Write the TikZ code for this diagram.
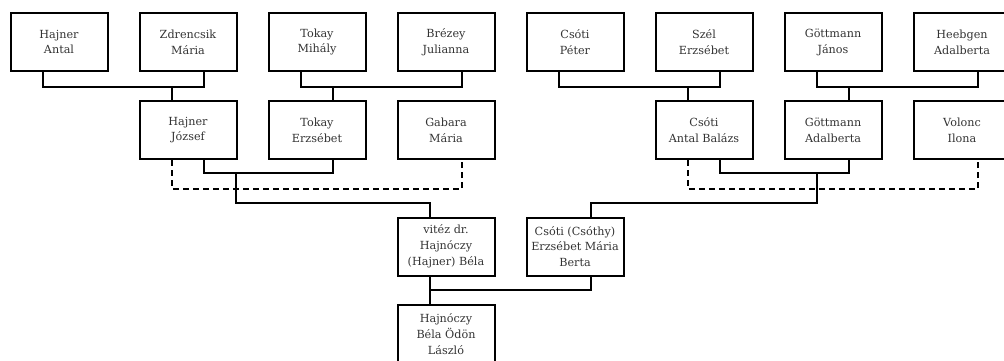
\documentclass[tikz,border=0pt]{standalone}
\usepackage{fontspec}
\setmainfont{DejaVu Serif}

\begin{document}
\begin{tikzpicture}[
    x=1pt, y=-1pt,
    person/.style={rectangle, draw=black, line width=2pt, minimum width=97pt, minimum height=58pt,
                   inner sep=0pt, align=center, text=black!80, font=\fontsize{11.2}{15.8}\selectfont},
    link/.style={line width=1.8pt, black},
    exlink/.style={link, dash pattern=on 6pt off 4pt}
  ]

    % picture frame (boxes on the right and bottom are cut off)
    \useasboundingbox (0,0) rectangle (1004,360);
    \clip (0,0) rectangle (1004,360);

    % Great-grandparents
    \node[person] (a1) at (59, 42)  {Hajner\\Antal};
    \node[person] (a2) at (188, 42) {Zdrencsik\\Mária};
    \node[person] (a3) at (317, 42) {Tokay\\Mihály};
    \node[person] (a4) at (446, 42) {Brézey\\Julianna};
    \node[person] (a5) at (575, 42) {Csóti\\Péter};
    \node[person] (a6) at (704, 42) {Szél\\Erzsébet};
    \node[person] (a7) at (833, 42) {Göttmann\\János};
    \node[person] (a8) at (962, 42) {Heebgen\\Adalberta};

    % Grandparents and their other spouses
    \node[person] (b1) at (188, 130) {Hajner\\József};
    \node[person] (b2) at (317, 130) {Tokay\\Erzsébet};
    \node[person] (b3) at (446, 130) {Gabara\\Mária};
    \node[person] (b4) at (704, 130) {Csóti\\Antal Balázs};
    \node[person] (b5) at (833, 130) {Göttmann\\Adalberta};
    \node[person] (b6) at (962, 130) {Volonc\\Ilona};

    % Parents
    \node[person] (c1) at (446, 246.5) {vitéz dr.\\Hajnóczy\\(Hajner) Béla};
    \node[person] (c2) at (575, 246.5) {Csóti (Csóthy)\\Erzsébet Mária\\Berta};

    % Child
    \node[person] (d1) at (446, 334) {Hajnóczy\\Béla Ödön\\László};

    % Junction points on the marriage bars
    \coordinate (j1) at (172, 87);
    \coordinate (j2) at (333, 87);
    \coordinate (j3) at (688, 87);
    \coordinate (j4) at (849, 87);
    \coordinate (j5) at (236, 173);
    \coordinate (j6) at (817, 173);
    \coordinate (j7) at (430, 290);

    % Top marriages
    \draw[link] ([xshift=-16pt]a1.south) |- (j1) -| ([xshift=16pt]a2.south);
    \draw[link] (j1) -- ([xshift=-16pt]b1.north);
    \draw[link] ([xshift=-16pt]a3.south) |- (j2) -| ([xshift=16pt]a4.south);
    \draw[link] (j2) -- ([xshift=16pt]b2.north);
    \draw[link] ([xshift=-16pt]a5.south) |- (j3) -| ([xshift=16pt]a6.south);
    \draw[link] (j3) -- ([xshift=-16pt]b4.north);
    \draw[link] ([xshift=-16pt]a7.south) |- (j4) -| ([xshift=16pt]a8.south);
    \draw[link] (j4) -- ([xshift=16pt]b5.north);

    % Second marriages (dashed)
    \draw[exlink] ([xshift=-16pt]b1.south) -- ++(0,29) -| ([xshift=16pt]b3.south);
    \draw[exlink] ([xshift=-16pt]b4.south) -- ++(0,29) -| ([xshift=16pt]b6.south);

    % Grandparents' marriages
    \draw[link] ([xshift=16pt]b1.south) |- (j5) -| ([xshift=16pt]b2.south);
    \draw[link] (j5) -- ++(0,30) -| ([xshift=-16pt]c1.north);
    \draw[link] ([xshift=16pt]b4.south) |- (j6) -| ([xshift=16pt]b5.south);
    \draw[link] (j6) -- ++(0,30) -| ([xshift=16pt]c2.north);

    % Parents' marriage
    \draw[link] ([xshift=-16pt]c1.south) |- (j7) -| ([xshift=16pt]c2.south);
    \draw[link] (j7) -- ([xshift=-16pt]d1.north);

  \end{tikzpicture}
\end{document}
